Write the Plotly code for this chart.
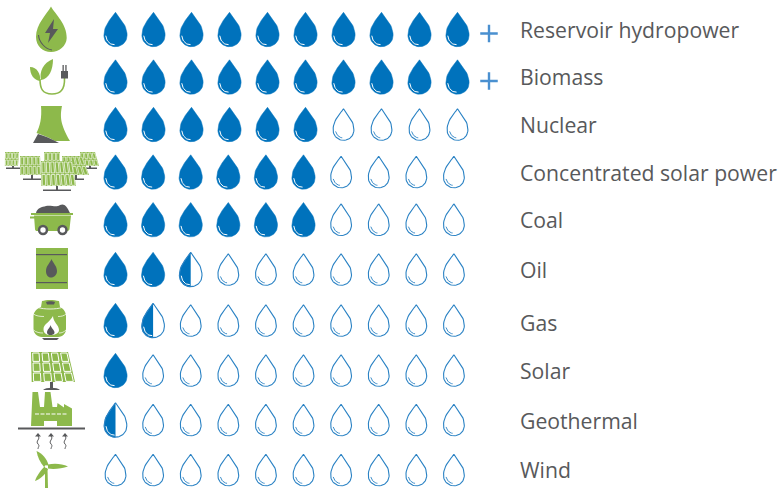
import plotly.graph_objects as go

# ---------- data ----------
categories = ["Reservoir hydropower", "Biomass", "Nuclear", "Concentrated solar power",
              "Coal", "Oil", "Gas", "Solar", "Geothermal", "Wind"]
scores = [10, 10, 6, 6, 6, 2.5, 1.5, 1, 0.5, 0]
plus_flags = [True, True, False, False, False, False, False, False, False, False]
max_drops = 10

# ---------- layout helpers ----------
row_y = [29.5, 77, 124.5, 172, 219.7, 269.5, 320.5, 370.5, 420, 470]
label_y = [33, 80, 128, 176, 223, 273, 326, 374, 424, 473]
col_step = [38, 38, 38, 37.6, 37.6, 37.6, 37.6, 37.6, 37.6, 37.6]
col_x0 = 115.5
BLUE = "#0072BC"
LINE = "#2A82C4"
PLUS = "#4A90D0"
GREEN = "#8DB94B"
GREY = "#58595B"
TEXT = "#58595B"


def bez(p0, p1, p2, p3, n=14):
    out = []
    for i in range(n + 1):
        t = i / n
        a, b, c, d = (1 - t) ** 3, 3 * t * (1 - t) ** 2, 3 * t * t * (1 - t), t ** 3
        out.append((a * p0[0] + b * p1[0] + c * p2[0] + d * p3[0],
                    a * p0[1] + b * p1[1] + c * p2[1] + d * p3[1]))
    return out


RIGHT = bez((0, -1), (0.34, -0.66), (1, -0.28), (1, 0.34)) + bez((1, 0.34), (1, 0.72), (0.55, 1), (0, 1))[1:]
LEFT = [(-x, y) for x, y in reversed(RIGHT)]
FULL = RIGHT + LEFT[1:]
LEFT_HALF = [(-x, y) for x, y in RIGHT]
ARC1 = bez((-0.84, 0.36), (-0.78, 0.7), (-0.45, 0.9), (-0.08, 0.88))
ARC2 = bez((-0.76, 0.44), (-0.66, 0.7), (-0.35, 0.84), (-0.12, 0.84))


def place(pts, cx, cy, hw, hh, xs, ys):
    xs.extend(cx + x * hw for x, _ in pts)
    ys.extend(cy + y * hh for _, y in pts)
    xs.append(None)
    ys.append(None)


fx, fy, hx, hy, ox, oy, wx, wy, ax, ay = [], [], [], [], [], [], [], [], [], []
for r, s in enumerate(scores):
    for c in range(max_drops):
        cx = col_x0 + c * col_step[r]
        cy = row_y[r]
        v = s - c
        if v >= 1:
            place(FULL, cx, cy, 11.6, 17.2, fx, fy)
            place(ARC1, cx, cy, 11.6, 17.2, wx, wy)
        elif v > 0:
            place(LEFT_HALF, cx, cy, 11.3, 17.2, hx, hy)
            place(FULL, cx, cy, 11.3, 17.2, ox, oy)
            place(ARC1, cx, cy, 11.3, 17.2, wx, wy)
        else:
            place(FULL, cx, cy, 10.4, 15.8, ox, oy)
            place(ARC2, cx, cy, 10.4, 15.8, ax, ay)

fig = go.Figure()
fig.add_trace(go.Scatter(x=fx, y=fy, mode="lines", fill="toself", fillcolor=BLUE,
                         line=dict(color=BLUE, width=0.5), hoverinfo="skip"))
fig.add_trace(go.Scatter(x=hx, y=hy, mode="lines", fill="toself", fillcolor=BLUE,
                         line=dict(color=BLUE, width=0.5), hoverinfo="skip"))
fig.add_trace(go.Scatter(x=ox, y=oy, mode="lines", line=dict(color=LINE, width=1.1), hoverinfo="skip"))
fig.add_trace(go.Scatter(x=ax, y=ay, mode="lines", line=dict(color=LINE, width=0.9), hoverinfo="skip"))
fig.add_trace(go.Scatter(x=wx, y=wy, mode="lines", line=dict(color="white", width=1), hoverinfo="skip"))

# plus signs
pr = [i for i, f in enumerate(plus_flags) if f]
fig.add_trace(go.Scatter(x=[489] * len(pr), y=[row_y[i] + 4 for i in pr], mode="markers",
                         marker=dict(symbol="cross-thin", size=12.5, line=dict(color=PLUS, width=2.4)),
                         hoverinfo="skip"))
# labels
fig.add_trace(go.Scatter(x=[520] * len(categories), y=label_y, mode="text", text=categories,
                         textposition="middle right",
                         textfont=dict(family="Open Sans", size=21.2, color=TEXT), hoverinfo="skip"))

# ---------- icons (decoration) ----------
shapes = []


def path(d, fill=GREEN, line=None, lw=0):
    shapes.append(dict(type="path", path=d, xref="x", yref="y", fillcolor=fill,
                       line=dict(color=line or fill, width=lw), layer="above"))


def stroke(d, color=GREY, lw=1.2):
    shapes.append(dict(type="path", path=d, xref="x", yref="y",
                       line=dict(color=color, width=lw), layer="above"))


def rect(x0, y0, x1, y1, fill=GREEN):
    shapes.append(dict(type="rect", x0=x0, y0=y0, x1=x1, y1=y1, xref="x", yref="y",
                       fillcolor=fill, line=dict(width=0), layer="above"))


def circ(cx, cy, r, fill):
    shapes.append(dict(type="circle", x0=cx - r, y0=cy - r, x1=cx + r, y1=cy + r, xref="x", yref="y",
                       fillcolor=fill, line=dict(width=0), layer="above"))


def panel(xl, xr, yt, yb, skew, rows, cols, fill=GREEN, lw=0.8):
    """skewed solar panel: top edge xl..xr, bottom edge shifted by skew"""
    path(f"M{xl},{yt} L{xr},{yt} L{xr + skew},{yb} L{xl + skew * 0.1},{yb} Z", fill)
    h = (yb - yt) / rows
    for i in range(rows):
        y0, y1 = yt + h * i + 1, yt + h * (i + 1) - 0.6
        for j in range(cols):
            f0, f1 = (j + 0.18) / cols, (j + 0.86) / cols
            def X(f, y):
                t = (y - yt) / (yb - yt)
                return xl + t * skew * 0.1 + f * ((xr - xl) + t * skew * 0.9)
            stroke(f"M{X(f0, y0)},{y0} L{X(f1, y0)},{y0} L{X(f1, y1)},{y1} L{X(f0, y1)},{y1} Z", "white", lw)


# 1 hydropower drop
path("M51,6.5 C55,14 67,24 66.7,38 C66.5,46 59,52 51,52 C43,52 36,46 36,37 C36,24 47,14 51,6.5 Z")
path("M54,19 L45,33 L50,33 L48,43 L58,29 L53,29 Z", GREY)
stroke("M38.5,35 C39,42 45,49 52,50", GREY, 1.1)

# 2 biomass
path("M30,67 C37,67 41,74 40,81 C34,80 30,75 30,67 Z")
path("M53,59 C53,70 49,79 41,80 C39,72 43,63 53,59 Z")
stroke("M40,79 C40,88 42,94 52,94 C60,94 65,90 64.5,78", GREEN, 1.6)
rect(61, 71, 68, 78.5, GREY)
rect(62.5, 65, 63.8, 71, GREY)
rect(65.3, 65, 66.6, 71, GREY)

# 3 nuclear cooling tower
path("M41,106 L62,106 C60,116 60,124 70,141 L55,141 C48,137 42,135 36.5,133 C40,126 42,118 41,106 Z")
path("M33,143 L38,134 C45,136 52,139 59,143 Z", GREY)

# 4 concentrated solar power
for xb, yb, w in [(13, 168, 7), (90, 168, 7), (32, 179, 9), (76, 179, 8), (57, 190, 14)]:
    rect(xb - 1, yb - 4, xb + 1, yb, GREY)
    rect(xb - w / 1, yb - 0.5, xb + w / 1, yb + 1, GREY)
panel(5, 19, 152, 166, -1, 2, 4, lw=0.6)
panel(80, 95, 152, 166, 4, 2, 4, lw=0.6)
panel(44, 60, 152, 161, 0, 1, 4, lw=0.6)
panel(20, 40, 156, 175, 1, 2, 5, lw=0.6)
panel(62, 82, 156, 175, 7, 2, 5, lw=0.6)
panel(41, 72, 161, 186, 4, 2, 7, lw=0.7)

# 5 coal cart
path("M36,213 C37,208 42,207 46,206 C52,205 56,208 60,205 C64,203 67,206 70,213 Z", GREY)
rect(31, 213, 73, 215)
rect(30, 216.5, 35, 218.5)
path("M34,215.5 L71,215.5 L69.5,229 C69.5,230.5 68,231 67,231 L37,231 C36,231 35,230.5 35,229 Z")
circ(43, 230, 5.2, GREY)
circ(62.5, 230, 5.2, GREY)
circ(43, 230, 2.7, "white")
circ(62.5, 230, 2.7, "white")

# 6 oil barrel
rect(36, 248, 68, 289)
rect(36, 254, 67, 255.2, GREY)
rect(36, 282, 67, 283.2, GREY)
path("M51.5,259 C53,263 57,266 57,271 C57,275 54,277.5 51,277.5 C48,277.5 46,275 46,271 C46,266 50,263 51.5,259 Z", GREY)

# 7 gas bottle
path("M41,307 L42,301 C46,299.5 54,299.5 59,301 L60,307 C64,309 66,312 66,317 L66,329 C66,333 63,337 58,337 L42,337 C37,337 33.5,333 33.5,329 L33.5,317 C33.5,312 36,309 41,307 Z")
path("M46,302 C48,301 53,301 55,302 L54,304.5 L47,304.5 Z", GREY)
stroke("M38,307.5 C44,309.5 56,309.5 62,307.5", "white", 0.8)
stroke("M33.5,314 C36,316 40,316.5 44,316.5", "white", 0.7)
stroke("M58,316.5 C61,316.5 64,316 66,314", "white", 0.7)
stroke("M33.5,330 C36,332.5 40,333 43,333", "white", 0.7)
stroke("M59,333 C62,333 64,332 66,330", "white", 0.7)
path("M42,338 L59,338 L57,340 L44,340 Z", GREY)
path("M53,316 C53,322 59,325 59,330 C59,333.5 55,335 51,335 C46,335 43.5,333 43.5,329 C43.5,324 50,322 53,316 Z", "white")
path("M50.5,325 C51,328 54.5,330 54.5,332.5 C54.5,334.5 52,335 50.5,335 C49,335 47,334.5 47,332.5 C47,329.5 50,328 50.5,325 Z", GREY)

# 8 solar panel
panel(31, 68, 352, 382, 7, 3, 4, lw=1)
rect(50, 382, 53, 388, GREY)
path("M43,390 C46,387 57,387 60,390 Z", GREY)

# 9 geothermal
path("M31,426 L32.5,392 L38,392 L40,407 L44,407 L45,392 L50.5,392 L52.5,407 L57,407 L57.5,403 L64,407.5 L64,404 L72,408.5 L72,426 L57,426 L57,421 L44,421 L44,426 Z")
stroke("M35,414 L68,414", "white", 1.1)
shapes[-1]["line"]["dash"] = "4px,1.5px"
rect(18, 427.5, 85, 429.5, GREY)
for xa in (38, 51, 65):
    path(f"M{xa - 3},{436.5} L{xa},{433} L{xa + 3},{436.5} Z", GREY)
    stroke(f"M{xa},{436} C{xa + 3},{439} {xa - 3},{441} {xa},{444} C{xa + 2},{446} {xa},{447} {xa},{449}", GREY, 1)

# 10 wind turbine
path("M45,488 L45,469 L47.5,469 L48,488 Z")
path("M36.5,451 C42,453 47,459 48.5,465 L44,467 C40,462 37.5,457 36.5,451 Z")
path("M68,466.5 C62,463.5 54,463 48,464.5 L48,468.5 C54,469.5 62,468.5 68,466.5 Z")
path("M35,481 C36.5,476 41,470 44.5,466.5 L48,469 C45,475 40,479 35,481 Z")
circ(46, 466.5, 1.3, "white")

fig.update_layout(
    width=780, height=488, margin=dict(l=0, r=0, t=0, b=0),
    paper_bgcolor="white", plot_bgcolor="white", showlegend=False,
    xaxis=dict(range=[0, 780], visible=False, fixedrange=True),
    yaxis=dict(range=[488, 0], visible=False, fixedrange=True),
    shapes=shapes,
)
fig.write_html("out.html", config={"displayModeBar": False},
               post_script="document.body.style.margin='0';document.body.style.overflow='hidden';")
